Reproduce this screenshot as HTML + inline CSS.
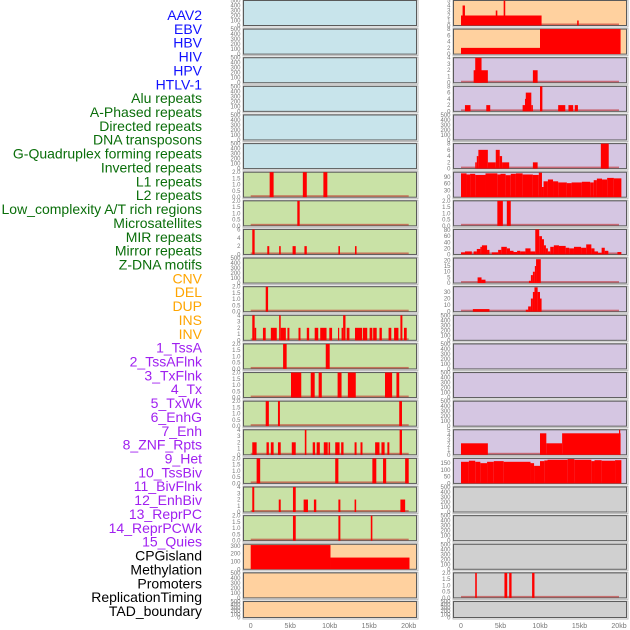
<!DOCTYPE html>
<html><head><meta charset="utf-8"><style>
html,body{margin:0;padding:0;background:#fff;width:630px;height:630px;overflow:hidden}
svg{display:block}
.lab{font-family:"Liberation Sans",sans-serif;font-size:14px}
.tk{font-family:"Liberation Sans",sans-serif;font-size:6px;fill:#777}
.ax{font-family:"Liberation Sans",sans-serif;font-size:7px;fill:#777}
</style></head><body>
<svg id="chart" width="630" height="630" viewBox="0 0 630 630"></svg>
<script>
// ---- labels ----
const trackLabels = ["AAV2","EBV","HBV","HIV","HPV","HTLV-1","Alu repeats","A-Phased repeats","Directed repeats","DNA transposons","G-Quadruplex forming repeats","Inverted repeats","L1 repeats","L2 repeats","Low_complexity A/T rich regions","Microsatellites","MIR repeats","Mirror repeats","Z-DNA motifs","CNV","DEL","DUP","INS","INV","1_TssA","2_TssAFlnk","3_TxFlnk","4_Tx","5_TxWk","6_EnhG","7_Enh","8_ZNF_Rpts","9_Het","10_TssBiv","11_BivFlnk","12_EnhBiv","13_ReprPC","14_ReprPCWk","15_Quies","CPGisland","Methylation","Promoters","ReplicationTiming","TAD_boundary"];
const labelGroups = ["virus","virus","virus","virus","virus","virus","repeat","repeat","repeat","repeat","repeat","repeat","repeat","repeat","repeat","repeat","repeat","repeat","repeat","sv","sv","sv","sv","sv","state","state","state","state","state","state","state","state","state","state","state","state","state","state","state","other","other","other","other","other"];
const xTickValues = [0,5,10,15,20];
const xTickLabels = ["0","5kb","10kb","15kb","20kb"];
const ticks500 = [0,100,200,300,400,500];
const ticks2 = [0,0.5,1.0,1.5,2.0];

// ---- series data: [startKb, endKb, value] ----
const aav2Bars = [[0,10.2,2],[0.2,0.5,4],[4.4,4.6,3],[5.4,5.6,5],[14.7,14.9,1]];
const ebvBars = [[0,10,2],[10,20.2,8]];
const hivBars = [[1.6,3.4,2],[1.8,2.6,4],[9.1,9.7,2]];
const aluBars = [[0.5,1.2,2],[3.2,3.7,2],[7.8,8.1,2],[8.1,8.3,4],[8.2,8.9,6],[8.9,9.1,2],[10,10.3,8],[12.3,13.2,2],[13.6,14.2,2],[14.4,14.8,2]];
const gquadBars = [[1.8,2.0,2],[2.0,2.2,4],[2.2,3.4,6],[3.4,4.4,2],[4.4,4.9,6],[4.9,5.2,4],[5.2,6.1,2],[9.1,9.7,2],[17.7,18.7,8]];
const l1LeftBars = [[2.4,2.9,2],[6.6,7.1,2],[9.2,9.7,2]];
const l1RightBars = [[0,0.7,105],[0.7,1.15,100],[1.15,1.8,103],[1.8,3.1,98],[3.1,4.6,105],[4.6,5.0,100],[5.0,5.65,103],[5.65,6.3,97],[6.3,6.95,103],[6.95,7.8,105],[7.8,9.1,100],[9.1,9.85,98],[9.85,10.25,108],[10.25,10.45,45],[10.45,11.0,70],[11.0,11.65,78],[11.65,12.3,70],[12.3,13.4,65],[13.4,14.0,62],[14.0,15.3,65],[15.3,16.35,68],[16.35,16.8,65],[16.8,17.2,75],[17.2,17.85,82],[17.85,18.5,78],[18.5,19.35,85],[19.35,20.3,83]];
const lowCompLeftBars = [[5.9,6.2,2]];
const lowCompRightBars = [[4.6,5.3,2],[5.8,6.3,2]];
const mirLeftBars = [[0.2,0.5,6],[2.1,2.35,2],[3.6,3.8,2],[5.3,5.7,2],[6.8,7.1,2],[11.1,11.3,2],[13.2,13.4,2]];
const mirRightBars = [[0,0.5,7],[0.5,1.37,10],[1.6,2.0,10],[2.0,2.45,18],[2.45,2.65,25],[2.65,3.3,30],[3.3,3.6,15],[3.9,4.7,7],[4.7,5.1,15],[5.1,5.8,25],[5.8,6.2,20],[6.2,6.65,12],[6.65,7.1,8],[7.1,7.5,12],[7.5,8.15,10],[8.15,8.8,20],[8.8,9.4,10],[9.4,9.9,82],[9.9,10.25,60],[10.25,10.5,50],[10.5,10.75,30],[10.75,11.0,20],[11.0,11.3,10],[11.3,11.75,25],[11.75,12.4,30],[12.4,13.25,28],[13.25,13.7,22],[13.7,14.3,20],[14.3,15.2,25],[15.2,15.85,22],[15.85,16.5,33],[16.5,16.9,20],[16.9,17.35,10],[17.35,17.8,5],[17.8,18.2,22],[18.2,18.65,12],[19.8,20.3,8]];
const cnvRightBars = [[2.1,2.6,5],[2.6,3.1,3],[8.6,8.85,2],[8.85,9.1,7],[9.1,9.35,10],[9.35,9.5,15],[9.5,10.1,21]];
const delLeftBars = [[1.9,2.2,2]];
const delRightBars = [[1.5,3.6,4],[8.2,8.5,3],[8.5,8.85,8],[8.85,9.1,20],[9.1,9.3,30],[9.3,9.7,37],[9.7,10.0,30],[10.0,10.2,20]];
const insBars = [[0.2,0.5,4],[0.5,0.7,2],[1.55,1.9,2],[2.55,3.3,2],[3.6,3.8,4],[3.8,4.45,2],[4.65,4.9,2],[6.05,6.3,2],[7.1,7.4,2],[8.1,8.55,2],[8.8,9.6,2],[9.95,10.3,2],[11.05,11.2,2],[11.5,11.7,2],[11.7,12.0,4],[12.15,12.5,2],[13.2,14.1,2],[14.2,14.75,2],[15.05,15.4,2],[15.5,15.95,2],[16.3,16.6,2],[17.45,17.8,2],[18.15,18.7,2],[18.95,19.2,4],[19.4,19.75,2]];
const tssaBars = [[4.1,4.55,2],[9.5,10.0,2]];
const txflnkBars = [[5.1,6.4,2],[7.6,8.1,2],[8.6,9.0,2],[11.0,11.5,2],[12.3,13.3,2],[17.0,17.9,2],[18.45,18.8,2]];
const txwkBars = [[1.9,2.3,2],[3.45,3.7,2],[18.8,19.15,2]];
const enhLeftBars = [[0.2,0.75,2],[2.0,2.3,2],[2.55,2.9,2],[3.45,3.8,2],[5.2,5.7,2],[6.85,7.05,4],[7.85,8.15,2],[8.35,8.75,2],[9.25,9.75,2],[9.85,10.05,2],[10.7,11.25,2],[11.45,11.75,2],[13.15,13.4,2],[13.9,14.15,2],[15.75,16.3,2],[16.55,16.95,2],[17.3,17.55,2],[18.85,19.15,4]];
const enhRightBars = [[0,3.4,2.3],[10,10.8,4.3],[10.8,12.8,2.3],[12.8,20.2,4.3],[20.0,20.15,5]];
const hetLeftBars = [[0.75,1.2,2],[10.7,11.1,2],[15.4,15.9,2],[16.75,17.15,2],[19.55,20.0,2]];
const hetRightBars = [[0,1.0,160],[1.0,1.8,168],[1.8,2.45,160],[2.45,3.3,150],[3.3,4.15,160],[4.15,5.4,165],[5.4,8.8,160],[8.8,9.25,150],[9.25,10.0,130],[10.0,10.55,165],[10.55,10.95,170],[10.95,13.5,175],[13.5,14.35,180],[14.35,16.5,175],[16.5,16.9,165],[16.9,17.8,172],[17.8,19.5,168],[19.5,20.3,172]];
const bivflnkBars = [[0.2,0.45,4],[3.55,3.8,2],[5.35,5.7,4],[6.7,7.25,2],[8.0,8.3,2],[11.1,11.35,2],[13.15,13.35,2],[18.95,19.55,2]];
const reprpcBars = [[5.35,5.7,2],[11.1,11.35,2],[15.2,15.4,2]];
const cpgBars = [[0,10.1,310],[10.1,20.1,150]];
const promoterBars = [[1.8,2.0,2],[5.5,5.85,2],[6.1,6.4,2],[9.0,9.3,2]];

const LB="#c8e4eb", GR="#c9e2a6", PE="#ffd19f", LV="#d5c6e2", GY="#d0d0d0";
const T5=[0,1,2,3,4,5], T8=[0,2,4,6,8], T4=[0,1,2,3,4], T6=[0,2,4,6];
const panels = [
 [0,0,LB,500,ticks500,null,"aav2-ebv-left"],[0,1,PE,5,T5,aav2Bars,"aav2-ebv-right"],
 [1,0,LB,500,ticks500,null,"hbv-hiv-left"],[1,1,PE,8,T8,ebvBars,"hbv-hiv-right"],
 [2,0,LB,500,ticks500,null,"hpv-htlv-left"],[2,1,LV,4,T4,hivBars,"hpv-htlv-right"],
 [3,0,LB,500,ticks500,null,"alu-left"],[3,1,LV,8,T8,aluBars,"alu-right"],
 [4,0,LB,500,ticks500,null,"directed-left"],[4,1,LV,500,ticks500,null,"directed-right"],
 [5,0,LB,500,ticks500,null,"gquad-left"],[5,1,LV,8,T8,gquadBars,"gquad-right"],
 [6,0,GR,2,ticks2,l1LeftBars,"l1-left"],[6,1,LV,110,[0,30,60,90],l1RightBars,"l1-right"],
 [7,0,GR,2,ticks2,lowCompLeftBars,"lowcomp-left"],[7,1,LV,2,ticks2,lowCompRightBars,"lowcomp-right"],
 [8,0,GR,6,T6,mirLeftBars,"mir-left"],[8,1,LV,82,[0,20,40,60,80],mirRightBars,"mir-right"],
 [9,0,GR,500,ticks500,null,"zdna-left"],[9,1,LV,22,[0,5,10,15,20],cnvRightBars,"zdna-right"],
 [10,0,GR,2,ticks2,delLeftBars,"del-left"],[10,1,LV,38,[0,10,20,30],delRightBars,"del-right"],
 [11,0,GR,4,T4,insBars,"ins-left"],[11,1,LV,500,ticks500,null,"ins-right"],
 [12,0,GR,2,ticks2,tssaBars,"tssa-left"],[12,1,LV,500,ticks500,null,"tssa-right"],
 [13,0,GR,2,ticks2,txflnkBars,"txflnk-left"],[13,1,LV,500,ticks500,null,"txflnk-right"],
 [14,0,GR,2,ticks2,txwkBars,"txwk-left"],[14,1,LV,500,ticks500,null,"txwk-right"],
 [15,0,GR,4,T4,enhLeftBars,"enh-left"],[15,1,LV,5,T5,enhRightBars,"enh-right"],
 [16,0,GR,2,ticks2,hetLeftBars,"het-left"],[16,1,LV,185,[0,50,100,150],hetRightBars,"het-right"],
 [17,0,GR,4,T4,bivflnkBars,"bivflnk-left"],[17,1,GY,500,ticks500,null,"bivflnk-right"],
 [18,0,GR,2,ticks2,reprpcBars,"reprpc-left"],[18,1,GY,500,ticks500,null,"reprpc-right"],
 [19,0,PE,320,[0,100,200,300],cpgBars,"cpg-left"],[19,1,GY,500,ticks500,null,"cpg-right"],
 [20,0,PE,500,ticks500,null,"methylation-left"],[20,1,GY,2,ticks2,promoterBars,"methylation-right"],
 [21,0,PE,500,ticks500,null,"tad-left"],[21,1,GY,500,ticks500,null,"tad-right"]
];

const NS="http://www.w3.org/2000/svg";
const svg=document.getElementById('chart');
function mk(tag,attrs,parent){const e=document.createElementNS(NS,tag);for(const k in attrs)e.setAttribute(k,attrs[k]);(parent||svg).appendChild(e);return e;}
const colColors={virus:"#1010ff",repeat:"#0a6e0a",sv:"#ffa500",state:"#a020f0",other:"#000"};
trackLabels.forEach((t,i)=>{
  const el=mk('text',{x:202,y:20+i*13.86,'text-anchor':'end',class:'lab',fill:colColors[labelGroups[i]]});
  
  
  el.textContent=t;
});
const panelLeft=[243.5,453.5], panelW=173, zeroX=[250.7,461], kbPx=7.9;
function xScale(col,kb){return zeroX[col]+kb*kbPx;}
function rowTop(r){return 0.5+r*28.62;}
function rowH(r){return r===21?16:25;}
panels.forEach(p=>{
  const [r,c,bg,ymax,tks,bars,name]=p;
  const top=rowTop(r), h=rowH(r), bot=top+h;
  const yScale=v=>bot-(v/ymax)*h;
  const g=mk('g',{});
  
  
  mk('rect',{x:panelLeft[c]-0.5,y:top-0.5,width:panelW+2,height:h+2,fill:'none',stroke:'#bbb','stroke-width':1},g);
  mk('rect',{x:panelLeft[c],y:top,width:panelW,height:h,fill:bg,stroke:'#5a5a5a','stroke-width':1},g);
  if(bars){
    if(name!=='cpg-left'){
      const bl=mk('rect',{x:xScale(c,0),y:bot-2,width:xScale(c,20)-xScale(c,0),height:1.6,fill:'rgba(190,30,30,0.55)'},g);
      
      
    }
    bars.forEach(b=>{
      const x0=xScale(c,b[0]),x1=xScale(c,b[1]),y=Math.max(top,yScale(b[2]));
      const br=mk('rect',{x:x0,y:y,width:Math.max(1.2,x1-x0),height:bot-y,fill:'#ff0000'},g);
      
      
    });
  }
  tks.forEach(v=>{
    const t=mk('text',{x:panelLeft[c]-3,y:yScale(v)+2,'text-anchor':'end',class:'tk'},g);
    
    
    t.textContent=(tks===ticks2)?v.toFixed(1):String(v);
  });
});
[0,1].forEach(c=>{
  xTickValues.forEach((v,i)=>{
    const t=mk('text',{x:xScale(c,v),y:628,'text-anchor':'middle',class:'ax'});
    
    
    t.textContent=xTickLabels[i];
  });
});
</script>
</body></html>
